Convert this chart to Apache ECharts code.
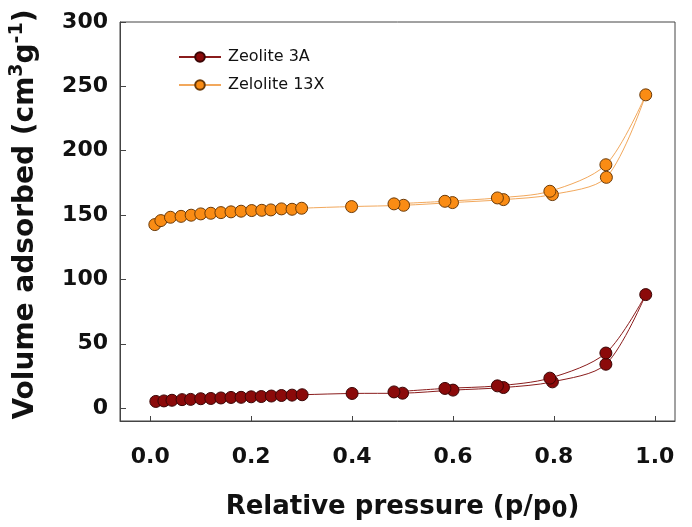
<!DOCTYPE html>
<html>
<head>
<meta charset="utf-8">
<script src="https://cdn.jsdelivr.net/npm/echarts@6/dist/echarts.min.js"></script>
<style>html,body{margin:0;padding:0;background:#fff;}#c{width:692px;height:527px;}</style>
</head>
<body>
<div id="c"></div>
<script>
// Zeolite 3A: adsorption branch then desorption branch (p/p0, volume)
const x3A = [0.011, 0.027, 0.043, 0.063, 0.080, 0.100, 0.120, 0.140, 0.160, 0.180, 0.200, 0.220, 0.240, 0.260, 0.281, 0.301, 0.400, 0.500, 0.600, 0.700, 0.797, 0.903, 0.982, 0.903, 0.792, 0.688, 0.584, 0.483];
const y3A = [5.2, 5.6, 6.1, 6.6, 6.8, 7.3, 7.5, 7.9, 8.3, 8.4, 8.8, 9.0, 9.4, 9.8, 10.1, 10.4, 11.4, 11.6, 14.0, 16.0, 20.4, 34.1, 88.2, 42.8, 23.3, 17.3, 15.3, 12.6];
// Zeolite 13X
const x13X = [0.009, 0.021, 0.040, 0.061, 0.081, 0.100, 0.120, 0.140, 0.160, 0.180, 0.201, 0.221, 0.239, 0.260, 0.281, 0.300, 0.399, 0.502, 0.599, 0.700, 0.797, 0.904, 0.982, 0.903, 0.792, 0.688, 0.584, 0.483];
const y13X = [142.6, 145.7, 148.3, 149.0, 149.9, 150.9, 151.4, 151.9, 152.5, 153.0, 153.5, 153.7, 154.0, 154.8, 154.5, 155.3, 156.6, 157.6, 159.7, 162.0, 165.9, 179.3, 243.4, 189.1, 168.5, 163.3, 160.7, 158.7];
const seriesNames = ['Zeolite 3A', 'Zelolite 13X'];
const xTicks = [0, 0.2, 0.4, 0.6, 0.8, 1.0];
const yTicks = [0, 50, 100, 150, 200, 250, 300];

const pairs = (xs, ys) => xs.map((v, i) => [v, ys[i]]);
const FONT = 'DejaVu Sans';
const chart = echarts.init(document.getElementById('c'), null, {renderer: 'canvas'});
chart.setOption({
  animation: false,
  backgroundColor: '#fff',
  grid: {left: 120, top: 22, width: 555, height: 399, show: true, borderColor: '#444', borderWidth: 1, outerBoundsMode: 'none', containLabel: false},
  legend: {
    left: 173, top: 44, orient: 'vertical', itemWidth: 42, itemHeight: 12, itemGap: 12,
    textStyle: {fontFamily: FONT, fontSize: 16, color: '#111', padding: [0, 0, 0, 2]},
    data: seriesNames
  },
  xAxis: {
    type: 'value', min: -0.06, max: 1.04,
    axisLine: {show: true, onZero: false, lineStyle: {color: '#444', width: 1}},
    axisTick: {show: true, inside: true, length: 5, customValues: xTicks, lineStyle: {color: '#444'}},
    axisLabel: {customValues: xTicks, margin: 25, formatter: v => v.toFixed(1), fontFamily: FONT, fontWeight: 'bold', fontSize: 22, color: '#111'},
    splitLine: {show: false},
    name: '{a|Relative pressure (p/p}{s|0}{a|)}', nameLocation: 'middle', nameGap: 70,
    nameTextStyle: {padding: [0, 0, 0, 10], rich: {
      a: {fontFamily: FONT, fontWeight: 'bold', fontSize: 26, color: '#111', lineHeight: 32},
      s: {fontFamily: FONT, fontWeight: 'bold', fontSize: 23, color: '#111', lineHeight: 24, padding: [8, 0, 0, 0]}
    }}
  },
  yAxis: {
    type: 'value', min: -10, max: 300,
    axisLine: {show: true, onZero: false, lineStyle: {color: '#444', width: 1}},
    axisTick: {show: true, inside: true, length: 6, customValues: yTicks, lineStyle: {color: '#444'}},
    axisLabel: {customValues: yTicks, margin: 12, fontFamily: FONT, fontWeight: 'bold', fontSize: 22, color: '#111'},
    splitLine: {show: false},
    name: '{a|Volume adsorbed (cm}{s|3}{a|g}{s|-1}{a|)}', nameLocation: 'middle', nameGap: 77, nameRotate: 90,
    nameTextStyle: {padding: [0, 0, 0, 14], rich: {
      a: {fontFamily: FONT, fontWeight: 'bold', fontSize: 28, color: '#111', lineHeight: 35},
      s: {fontFamily: FONT, fontWeight: 'bold', fontSize: 19, color: '#111', lineHeight: 18, padding: [0, 0, 17, 0]}
    }}
  },
  series: [
    {
      name: seriesNames[0], type: 'line', smooth: 0.3, data: pairs(x3A, y3A),
      symbol: 'circle', symbolSize: 12,
      lineStyle: {color: '#8a1c1c', width: 1},
      itemStyle: {color: '#8b0a0a', borderColor: '#3a0505', borderWidth: 1}
    },
    {
      name: seriesNames[1], type: 'line', smooth: 0.3, data: pairs(x13X, y13X),
      symbol: 'circle', symbolSize: 12,
      lineStyle: {color: '#f2a85c', width: 1},
      itemStyle: {color: '#fa8c14', borderColor: '#6b3a08', borderWidth: 1}
    }
  ]
});
</script>
</body>
</html>
